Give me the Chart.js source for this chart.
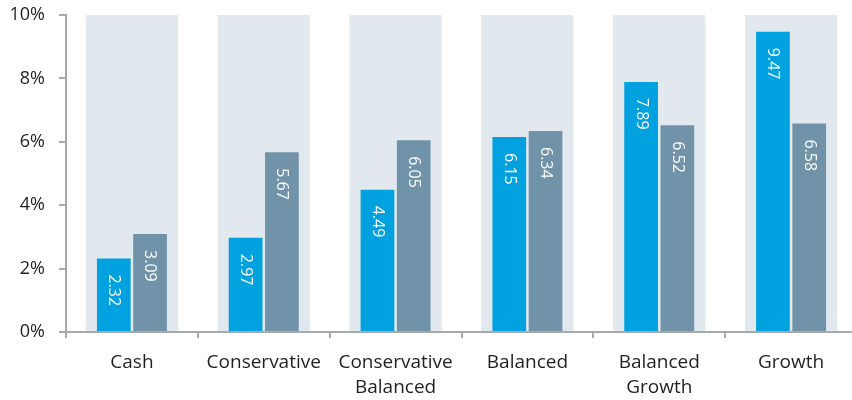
<!DOCTYPE html>
<html><head><meta charset="utf-8">
<script src="https://cdn.jsdelivr.net/npm/chart.js@4/dist/chart.umd.min.js"></script>
<style>html,body{margin:0;padding:0;overflow:hidden;background:#fff}#wrap{width:857px;height:400px;position:relative}</style>
</head><body><div id="wrap"><canvas id="c"></canvas></div>
<script>
const categories = [["Cash"], ["Conservative"], ["Conservative", "Balanced"], ["Balanced"], ["Balanced", "Growth"], ["Growth"]];
const seriesA = [2.32, 2.97, 4.49, 6.15, 7.89, 9.47];
const seriesB = [3.09, 5.67, 6.05, 6.34, 6.52, 6.58];
const bandValues = [10, 10, 10, 10, 10, 10];
const yTicks = [0, 2, 4, 6, 8, 10];

const FONT = "'Open Sans', 'Noto Sans', sans-serif";
const labelPlugin = {
  id: 'barLabels',
  afterDatasetsDraw(chart) {
    const ctx = chart.ctx;
    [0, 1].forEach(di => {
      const meta = chart.getDatasetMeta(di);
      const data = chart.data.datasets[di].data;
      meta.data.forEach((el, i) => {
        ctx.save();
        ctx.translate(el.x, el.y + 16);
        ctx.rotate(Math.PI / 2);
        ctx.fillStyle = '#ffffff';
        ctx.font = '16px ' + FONT;
        ctx.textAlign = 'left';
        ctx.textBaseline = 'middle';
        ctx.fillText(data[i].toFixed(2), 0, 0);
        ctx.restore();
      });
    });
  }
};

new Chart(document.getElementById('c'), {
  type: 'bar',
  data: {
    labels: categories,
    datasets: [
      { data: seriesA, backgroundColor: '#00a1df', categoryPercentage: 0.55, barPercentage: 0.93, order: 1 },
      { data: seriesB, backgroundColor: '#7093a9', categoryPercentage: 0.55, barPercentage: 0.93, order: 2 },
      { data: bandValues, backgroundColor: '#e1e9ef', grouped: false, categoryPercentage: 1, barPercentage: 0.7, order: 10 }
    ]
  },
  options: {
    responsive: true,
    maintainAspectRatio: false,
    animation: false,
    events: [],
    layout: { padding: { top: 15, right: 0, left: 0, bottom: 0 } },
    plugins: { legend: { display: false }, tooltip: { enabled: false } },
    scales: {
      x: {
        afterFit(s) { s.height = 68; s.paddingLeft = 0; s.paddingRight = 0; },
        border: { color: '#a7a9ac', width: 2 },
        grid: { drawOnChartArea: false, drawTicks: true, tickLength: 6, color: '#a7a9ac', lineWidth: 2, offset: true },
        ticks: { color: '#231f20', font: { family: FONT, size: 19, lineHeight: 1.27 }, padding: 13, maxRotation: 0, autoSkip: false }
      },
      y: {
        min: 0, max: 10,
        afterFit(s) { s.width = 66; s.paddingTop = 0; s.paddingBottom = 0; },
        afterBuildTicks(s) { s.ticks = yTicks.map(v => ({ value: v })); },
        border: { color: '#a7a9ac', width: 2 },
        grid: { drawOnChartArea: false, drawTicks: true, tickLength: 7, color: '#a7a9ac', lineWidth: 2 },
        ticks: { color: '#231f20', font: { family: FONT, size: 18 }, padding: 14, callback: v => v + '%' }
      }
    }
  },
  plugins: [labelPlugin]
});
</script></body></html>
